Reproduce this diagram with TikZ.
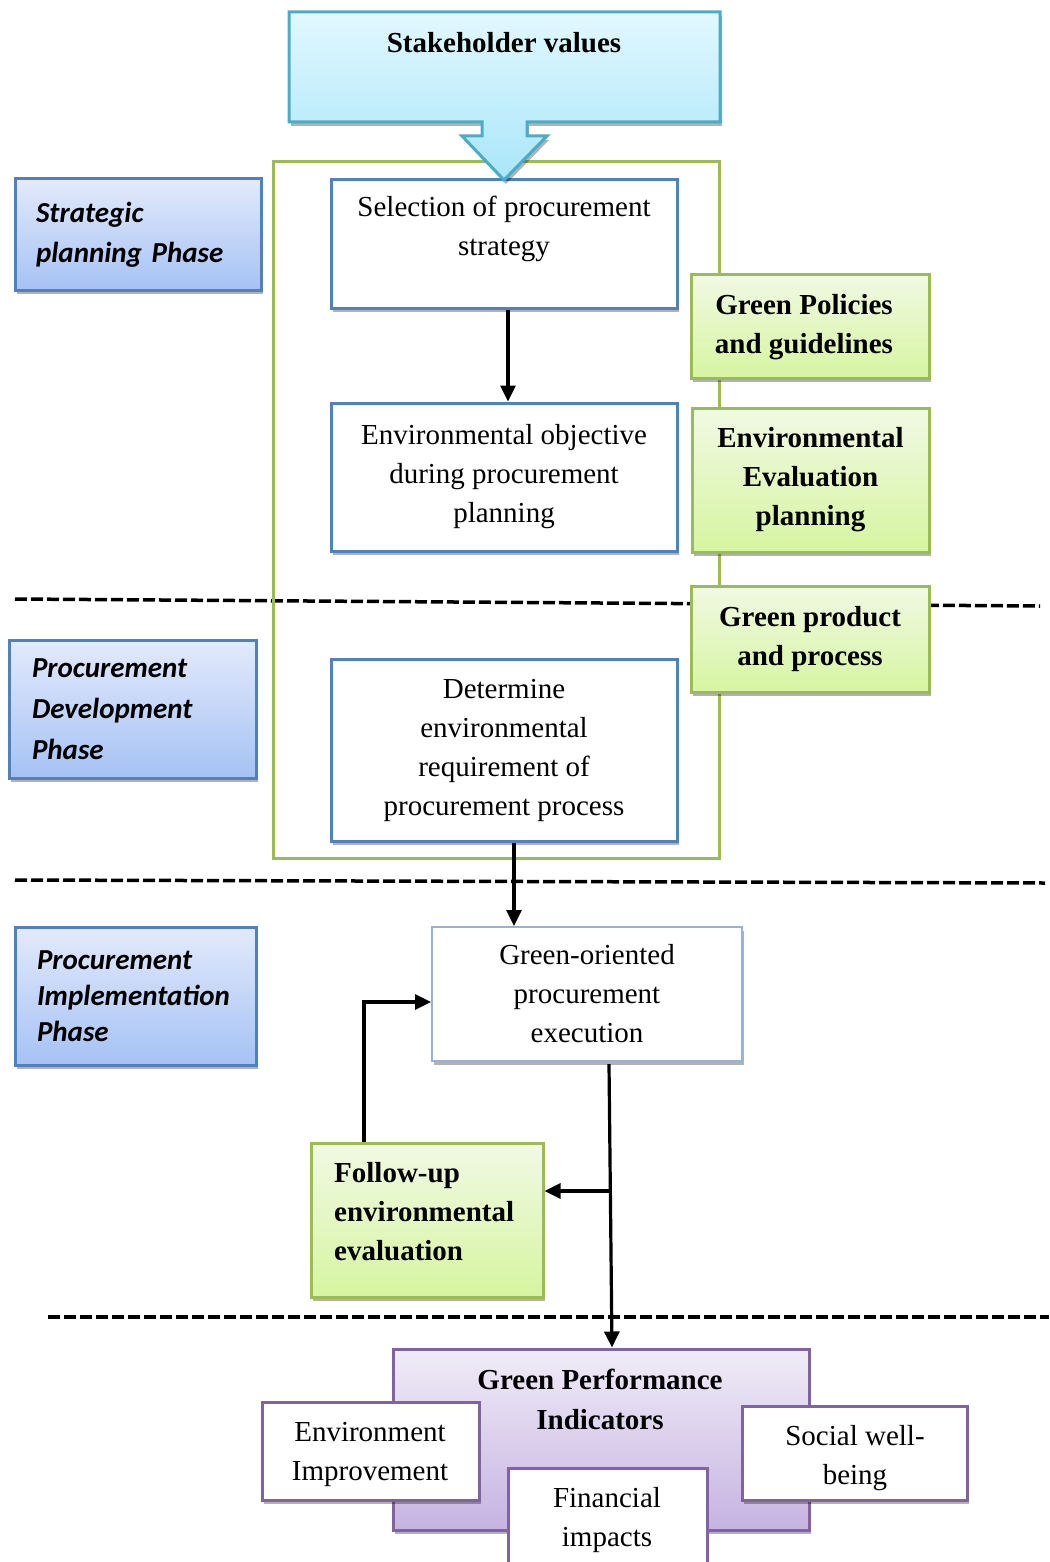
\documentclass[tikz,border=0pt]{standalone}
\usepackage{fontspec}
\setmainfont{Liberation Serif}
\newfontfamily\phasefont{Carlito}
\usetikzlibrary{arrows.meta,shadows,calc}

\definecolor{cyanline}{HTML}{4BACC6}
\definecolor{cyantop}{HTML}{E2F8FE}
\definecolor{cyanbot}{HTML}{A9E6FA}
\definecolor{blueline}{HTML}{4F81BD}
\definecolor{bluetop}{HTML}{E3EAFB}
\definecolor{bluebot}{HTML}{A5C2F4}
\definecolor{greenline}{HTML}{9BBB59}
\definecolor{greentop}{HTML}{F1F9E4}
\definecolor{greenbot}{HTML}{D6F5A0}
\definecolor{purpleline}{HTML}{8064A2}
\definecolor{purpletop}{HTML}{F0ECF7}
\definecolor{purplebot}{HTML}{C6B3E2}
\definecolor{execline}{HTML}{95B3D7}

\tikzset{
  shade/.style={drop shadow={shadow xshift=2pt, shadow yshift=-4pt, opacity=0.3, fill=black}},
  txt/.style={font=\fontsize{29}{39}\selectfont, align=center, inner sep=0pt},
  boldtxt/.style={font=\fontsize{29}{39}\selectfont\bfseries, align=center, inner sep=0pt},
  stepbox/.style={draw=blueline, line width=3pt, fill=white, shade, inner sep=0pt,
    font=\fontsize{29}{39}\selectfont, align=center},
  execbox/.style={draw=execline, line width=2pt, fill=white, shade, inner sep=0pt,
    font=\fontsize{29}{39}\selectfont, align=center},
  phasebox/.style={draw=blueline, line width=3pt, top color=bluetop, bottom color=bluebot,
    shade, align=left, inner ysep=0pt},
  greenbox/.style={draw=greenline, line width=3pt, top color=greentop, bottom color=greenbot,
    shade, inner sep=0pt, font=\fontsize{29}{39}\selectfont\bfseries, align=center},
  kpibox/.style={draw=purpleline, line width=3pt, fill=white, shade, inner sep=0pt},
  arr/.style={line width=3.2pt, -{Triangle[length=16pt,width=15pt]}},
  divider/.style={line width=3.5pt, dash pattern=on 12pt off 4pt},
}

\begin{document}
\begin{tikzpicture}[x=1pt, y=-1pt]
\useasboundingbox (0,0) rectangle (1049,1562);
\clip (0,0) rectangle (1049,1562);

% phase dividers
\draw[divider] (15,599) -- (1040,606);
\draw[divider] (15,880) -- (1045,883);
\draw[divider] (48,1317) -- (1049,1317);

% planning frame
\draw[greenline, line width=3pt] (273,162) rectangle (719,858);

% planning and development steps
\node[stepbox, minimum width=346pt, minimum height=128pt] (sel) at (504,244) {};
\node[txt] (seltext) at (504,229) {Selection of procurement\\strategy};
\node[stepbox, minimum width=346pt, minimum height=148pt] (env) at (504,477)
  {Environmental objective\\during procurement\\planning};
\node[stepbox, minimum width=346pt, minimum height=182pt] (det) at (504,750)
  {Determine\\environmental\\requirement of\\procurement process};

% stakeholder values block with its arrow
\path[draw=cyanline, line width=3pt, top color=cyantop, bottom color=cyanbot, shade]
  (289,12) -- (720,12) -- (720,122) -- (527,122) -- (527,136) -- (547,136)
  -- (504,180) -- (462,136) -- (482,136) -- (482,122) -- (289,122) -- cycle;
\node[boldtxt] (stake) at (504,43) {Stakeholder values};

% green support boxes
\node[greenbox, minimum width=238pt, minimum height=104pt] (pol) at (810,326) {};
\node[boldtxt] (poltext) at (804,327) {Green Policies\\and guidelines};
\node[greenbox, minimum width=237pt, minimum height=144pt] (eval) at (810.5,480)
  {Environmental\\Evaluation\\planning};
\node[greenbox, minimum width=238pt, minimum height=106pt] (prod) at (810,639)
  {Green product\\and process};

% phase labels
\node[phasebox, minimum height=111pt, text width=204pt, inner xsep=21pt,
  font=\fontsize{29}{40}\selectfont\phasefont\bfseries\itshape] (ph1) at (138,234.5)
  {Strategic\\planning Phase};
\node[phasebox, minimum height=138pt, text width=201pt, inner xsep=23pt,
  font=\fontsize{29}{41}\selectfont\phasefont\bfseries\itshape] (ph2) at (132.5,709)
  {Procurement\\Development\\Phase};
\node[phasebox, minimum height=138pt, text width=197pt, inner xsep=22pt,
  font=\fontsize{29}{36}\selectfont\phasefont\bfseries\itshape] (ph3) at (135.5,996)
  {Procurement\\Implementation\\Phase};

% implementation
\node[execbox, minimum width=310pt, minimum height=134pt] (exec) at (587,994)
  {Green-oriented\\procurement\\execution};
\node[greenbox, minimum width=232pt, minimum height=154pt] (follow) at (427,1220) {};
\node[boldtxt, align=left, anchor=west] (followtext) at (334,1212)
  {Follow-up\\environmental\\evaluation};

% indicators
\node[draw=purpleline, line width=3pt, top color=purpletop, bottom color=purplebot, shade,
  minimum width=416pt, minimum height=181pt] (gpi) at (601,1439.5) {};
\node[boldtxt, font=\fontsize{29}{40}\selectfont\bfseries] (gpitext) at (600,1399)
  {Green Performance\\Indicators};
\node[kpibox, minimum width=217pt, minimum height=98pt] (ei) at (370.5,1451) {};
\node[txt] (eitext) at (370,1454) {Environment\\Improvement};
\node[kpibox, minimum width=225pt, minimum height=94pt] (sw) at (854.5,1453) {};
\node[txt] (swtext) at (855,1458) {Social well-\\being};
\node[kpibox, minimum width=199pt, minimum height=108pt] (fi) at (607.5,1522) {};
\node[txt] (fitext) at (607,1520) {Financial\\impacts};

% connectors
\coordinate (selout) at ($(sel.south)+(4,0)$);
\draw[arr] (selout) -- (selout |- env.north);
\coordinate (detout) at ($(det.south)+(10,0)$);
\draw[arr] (detout) -- (detout |- exec.north);
\draw[arr] ($(exec.south)+(22,2)$) -- ($(gpi.north)+(11,0)$);
\coordinate (branch) at ($(exec.south)+(22.5,129)$);
\draw[arr] (branch) -- (branch -| follow.east);
\draw[arr] ($(follow.north)+(-63,0)$) |- ($(exec.west)+(0,8)$);

\end{tikzpicture}
\end{document}
